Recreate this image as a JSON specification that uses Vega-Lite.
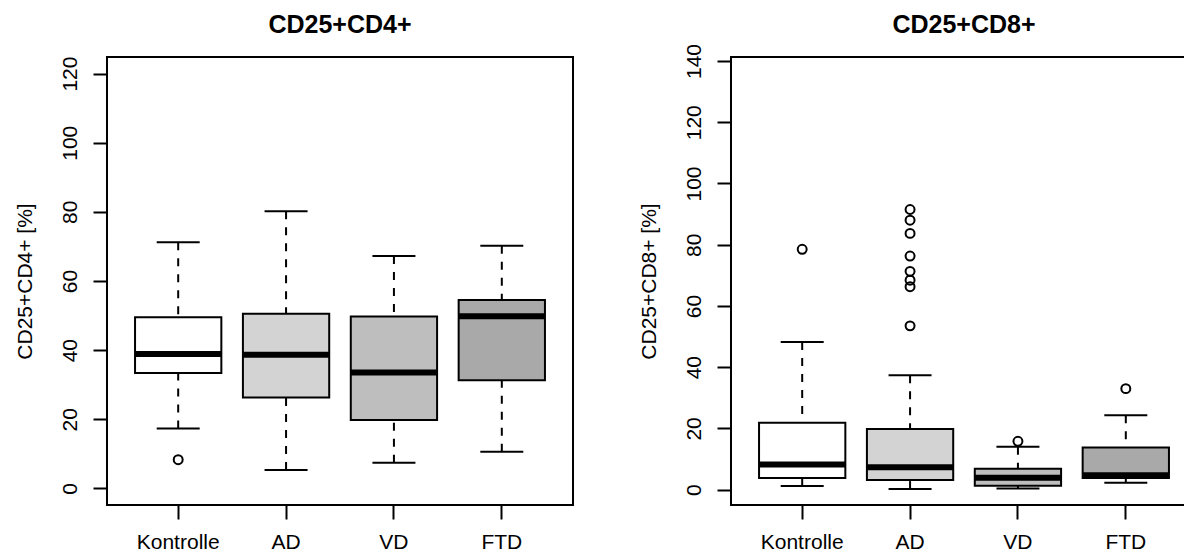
{
  "$schema": "https://vega.github.io/schema/vega-lite/v6.json",
  "background": "white",
  "padding": {"left": 13, "top": 12, "right": 0, "bottom": 0},
  "config": {
    "font": "Liberation Sans",
    "view": {"stroke": "black", "strokeWidth": 2},
    "axis": {
      "labelFont": "Liberation Sans", "labelFontSize": 21, "labelColor": "black",
      "titleFont": "Liberation Sans", "titleFontSize": 21, "titleFontWeight": "normal", "titleColor": "black",
      "tickColor": "black", "tickWidth": 2, "tickSize": 14, "domain": false, "grid": false
    },
    "title": {"font": "Liberation Sans", "fontSize": 25, "fontWeight": "bold", "color": "black", "baseline": "alphabetic", "offset": 18, "frame": "group", "anchor": "middle"}
  },
  "datasets": {
    "box4": [
      {"group": "Kontrolle", "lo": 17.3, "q1": 33.4, "med": 38.9, "q3": 49.5, "hi": 71.2},
      {"group": "AD", "lo": 5.3, "q1": 26.3, "med": 38.7, "q3": 50.5, "hi": 80.2},
      {"group": "VD", "lo": 7.4, "q1": 19.8, "med": 33.5, "q3": 49.7, "hi": 67.2},
      {"group": "FTD", "lo": 10.6, "q1": 31.3, "med": 49.8, "q3": 54.5, "hi": 70.2}
    ],
    "out4": [
      {"group": "Kontrolle", "value": 8.3}
    ],
    "box8": [
      {"group": "Kontrolle", "lo": 1.2, "q1": 3.8, "med": 8.2, "q3": 21.9, "hi": 48.2},
      {"group": "AD", "lo": 0.2, "q1": 3.2, "med": 7.3, "q3": 19.8, "hi": 37.4},
      {"group": "VD", "lo": 0.4, "q1": 1.3, "med": 3.9, "q3": 6.8, "hi": 14.0},
      {"group": "FTD", "lo": 2.3, "q1": 3.8, "med": 4.7, "q3": 13.8, "hi": 24.3}
    ],
    "out8": [
      {"group": "Kontrolle", "value": 78.5},
      {"group": "AD", "value": 91.5},
      {"group": "AD", "value": 88.0},
      {"group": "AD", "value": 83.7},
      {"group": "AD", "value": 76.3},
      {"group": "AD", "value": 71.3},
      {"group": "AD", "value": 68.4},
      {"group": "AD", "value": 66.3},
      {"group": "AD", "value": 53.5},
      {"group": "VD", "value": 15.8},
      {"group": "FTD", "value": 33.0}
    ]
  },
  "spacing": 158,
  "bounds": "flush",
  "hconcat": [
    {
      "title": {"text": "CD25+CD4+", "offset": 18},
      "width": 466,
      "height": 448,
      "encoding": {
        "x": {"field": "group", "type": "nominal", "sort": ["Kontrolle", "AD", "VD", "FTD"],
              "scale": {"type": "band", "domain": ["Kontrolle", "AD", "VD", "FTD"], "paddingInner": 0, "paddingOuter": 0.16},
              "axis": {"title": null, "labelAngle": 0, "bandPosition": 0.5, "labelPadding": 12}}
      },
      "layer": [
        {
          "data": {"name": "box4"},
          "mark": {"type": "rule", "strokeDash": [8, 8], "strokeWidth": 2, "color": "black"},
          "encoding": {
            "y": {"field": "hi", "type": "quantitative",
                  "scale": {"domain": [-4.8, 124.8], "nice": false, "zero": false},
                  "axis": {"title": "CD25+CD4+ [%]", "values": [0, 20, 40, 60, 80, 100, 120], "labelAngle": 270, "labelPadding": 13, "titlePadding": 24, "labelOverlap": false}},
            "y2": {"field": "q3"}
          }
        },
        {
          "data": {"name": "box4"},
          "mark": {"type": "rule", "strokeDash": [8, 8], "strokeWidth": 2, "color": "black"},
          "encoding": {"y": {"field": "lo", "type": "quantitative"}, "y2": {"field": "q1"}}
        },
        {
          "data": {"name": "box4"},
          "mark": {"type": "bar", "width": {"band": 0.8}, "stroke": "black", "strokeWidth": 2},
          "encoding": {
            "y": {"field": "q1", "type": "quantitative"}, "y2": {"field": "q3"},
            "fill": {"field": "group", "type": "nominal", "scale": {"domain": ["Kontrolle", "AD", "VD", "FTD"], "range": ["#ffffff", "#d3d3d3", "#bebebe", "#a9a9a9"]}, "legend": null}
          }
        },
        {
          "data": {"name": "box4"},
          "mark": {"type": "tick", "size": 86, "thickness": 6, "color": "black", "opacity": 1},
          "encoding": {"y": {"field": "med", "type": "quantitative"}}
        },
        {
          "data": {"name": "box4"},
          "mark": {"type": "tick", "size": 43, "thickness": 2, "color": "black", "opacity": 1},
          "encoding": {"y": {"field": "hi", "type": "quantitative"}}
        },
        {
          "data": {"name": "box4"},
          "mark": {"type": "tick", "size": 43, "thickness": 2, "color": "black", "opacity": 1},
          "encoding": {"y": {"field": "lo", "type": "quantitative"}}
        },
        {
          "data": {"name": "out4"},
          "mark": {"type": "point", "shape": "circle", "filled": false, "stroke": "black", "strokeWidth": 2, "size": 80, "opacity": 1},
          "encoding": {"y": {"field": "value", "type": "quantitative"}}
        }
      ]
    },
    {
      "title": {"text": "CD25+CD8+", "offset": 5},
      "width": 466,
      "height": 448,
      "encoding": {
        "x": {"field": "group", "type": "nominal", "sort": ["Kontrolle", "AD", "VD", "FTD"],
              "scale": {"type": "band", "domain": ["Kontrolle", "AD", "VD", "FTD"], "paddingInner": 0, "paddingOuter": 0.16},
              "axis": {"title": null, "labelAngle": 0, "bandPosition": 0.5, "labelPadding": 12}}
      },
      "layer": [
        {
          "data": {"name": "box8"},
          "mark": {"type": "rule", "strokeDash": [8, 8], "strokeWidth": 2, "color": "black"},
          "encoding": {
            "y": {"field": "hi", "type": "quantitative",
                  "scale": {"domain": [-5.0, 141.3], "nice": false, "zero": false},
                  "axis": {"title": "CD25+CD8+ [%]", "values": [0, 20, 40, 60, 80, 100, 120, 140], "labelAngle": 270, "labelPadding": 13, "titlePadding": 24, "labelOverlap": false}},
            "y2": {"field": "q3"}
          }
        },
        {
          "data": {"name": "box8"},
          "mark": {"type": "rule", "strokeDash": [8, 8], "strokeWidth": 2, "color": "black"},
          "encoding": {"y": {"field": "lo", "type": "quantitative"}, "y2": {"field": "q1"}}
        },
        {
          "data": {"name": "box8"},
          "mark": {"type": "bar", "width": {"band": 0.8}, "stroke": "black", "strokeWidth": 2},
          "encoding": {
            "y": {"field": "q1", "type": "quantitative"}, "y2": {"field": "q3"},
            "fill": {"field": "group", "type": "nominal", "scale": {"domain": ["Kontrolle", "AD", "VD", "FTD"], "range": ["#ffffff", "#d3d3d3", "#bebebe", "#a9a9a9"]}, "legend": null}
          }
        },
        {
          "data": {"name": "box8"},
          "mark": {"type": "tick", "size": 86, "thickness": 6, "color": "black", "opacity": 1},
          "encoding": {"y": {"field": "med", "type": "quantitative"}}
        },
        {
          "data": {"name": "box8"},
          "mark": {"type": "tick", "size": 43, "thickness": 2, "color": "black", "opacity": 1},
          "encoding": {"y": {"field": "hi", "type": "quantitative"}}
        },
        {
          "data": {"name": "box8"},
          "mark": {"type": "tick", "size": 43, "thickness": 2, "color": "black", "opacity": 1},
          "encoding": {"y": {"field": "lo", "type": "quantitative"}}
        },
        {
          "data": {"name": "out8"},
          "mark": {"type": "point", "shape": "circle", "filled": false, "stroke": "black", "strokeWidth": 2, "size": 80, "opacity": 1},
          "encoding": {"y": {"field": "value", "type": "quantitative"}}
        }
      ]
    }
  ]
}
